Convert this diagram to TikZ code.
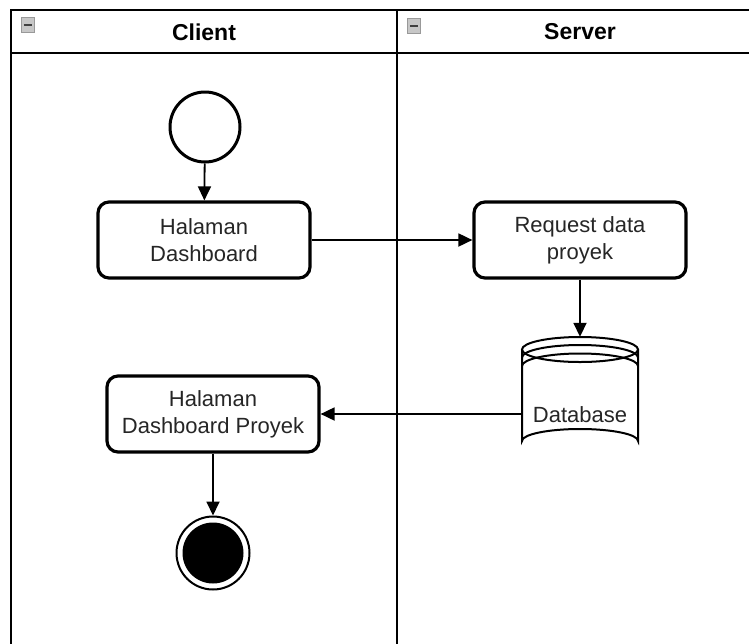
\documentclass[tikz,border=0pt]{standalone}
\usepackage{fontspec}
\setmainfont{Liberation Sans}
\usetikzlibrary{arrows.meta}
\begin{document}
\begin{tikzpicture}[x=1pt,y=-1pt,
  act/.style={draw,line width=3.2pt,rounded corners=11pt,minimum width=212pt,minimum height=76pt,align=center,font=\fontsize{22}{27}\selectfont,text=black!85},
  conn/.style={line width=1.8pt,-{Triangle[length=14pt,width=13pt]}},
  frameline/.style={line width=2pt},
  lanelabel/.style={font=\bfseries\fontsize{23}{27}\selectfont},
  minusicon/.style={draw=black!40,fill=black!22,minimum width=13pt,minimum height=15pt,inner sep=0pt}]
\clip (0,0) rectangle (749,643);
\useasboundingbox (0,0) rectangle (749,643);
\fill[white] (0,0) rectangle (749,643);
% swimlanes
\draw[frameline] (11,10) rectangle (760,660);
\draw[frameline] (11,53) -- (760,53);
\draw[frameline] (397,10) -- (397,660);
\node[lanelabel] (lc) at (204,32) {Client};
\node[lanelabel] (ls) at (580,32) {Server};
\node[minusicon] (m1) at (28,25) {};
\node[minusicon] (m2) at (414,26) {};
\draw[black!75,line width=2pt] ([xshift=2.5pt]m1.west) -- ([xshift=-2.5pt]m1.east);
\draw[black!75,line width=2pt] ([xshift=2.5pt]m2.west) -- ([xshift=-2.5pt]m2.east);
% nodes
\node[circle,draw,line width=3pt,minimum size=70pt,inner sep=0pt] (start) at (205,127) {};
\node[act] (hd) at (204,240) {Halaman\\Dashboard};
\node[act] (rq) at (580,240) {Request data\\proyek};
\node[act] (hdp) at (213,414) {Halaman\\Dashboard Proyek};
\node[minimum width=116pt,minimum height=116pt,inner sep=0pt] (db) at (580,395) {};
% cylinder
\begin{scope}[line width=2pt]
\draw[fill=white] (522,349.5) -- (522,441) arc[start angle=180,end angle=360,x radius=58,y radius=12] -- (638,349.5);
\draw (580,349.5) ellipse [x radius=58,y radius=12.5];
\draw (522,357.5) arc[start angle=180,end angle=360,x radius=58,y radius=12.5];
\draw (522,366) arc[start angle=180,end angle=360,x radius=58,y radius=12.5];
\end{scope}
\node[font=\fontsize{22}{27}\selectfont,text=black!85] (dbl) at (580,415) {Database};
\node[circle,draw,line width=2pt,minimum size=73pt,inner sep=0pt] (end) at (213,553) {};
\node[circle,fill=black,minimum size=61pt,inner sep=0pt] (endin) at (213,553) {};
% connectors
\draw[conn] (start) -- (hd);
\draw[conn] (hd) -- (rq);
\draw[conn] (rq) -- (db.north);
\draw[conn] (db.west |- hdp) -- (hdp);
\draw[conn] (hdp) -- (end);
\end{tikzpicture}
\end{document}
